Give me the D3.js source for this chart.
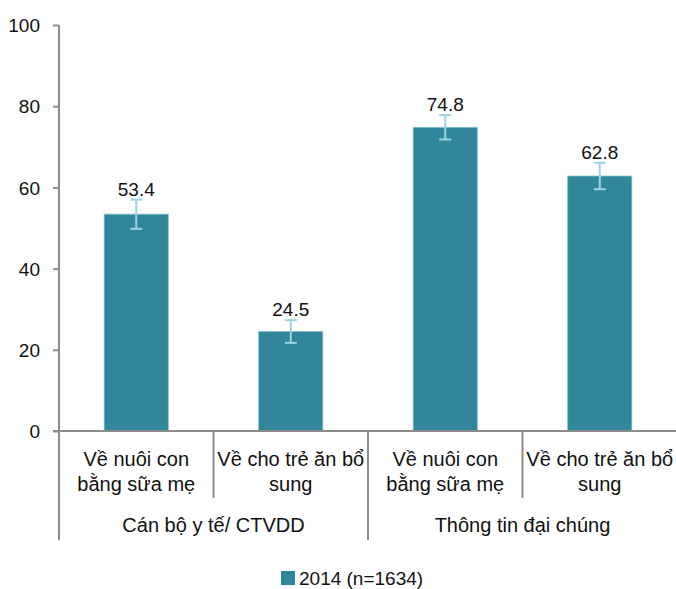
<!DOCTYPE html>
<html>
<head>
<meta charset="utf-8">
<script src="https://cdn.jsdelivr.net/npm/d3@7"></script>
<style>
  body { margin: 0; background: #fff; }
  text { font-family: "Liberation Sans Narrow", "Arial Narrow", "Liberation Sans", sans-serif; fill: #111; }
</style>
</head>
<body>
<script>
// data
const groups = ["Cán bộ y tế/ CTVDD", "Thông tin đại chúng"]
const categories = [
  ["Về nuôi con", "bằng sữa mẹ"],
  ["Về cho trẻ ăn bổ", "sung"],
  ["Về nuôi con", "bằng sữa mẹ"],
  ["Về cho trẻ ăn bổ", "sung"]
]
const catGroup = [0, 0, 1, 1]
const values = [53.4, 24.5, 74.8, 62.8]
const errors = [3.6, 2.8, 3.0, 3.25]
const yTicks = [0, 20, 40, 60, 80, 100]
const seriesName = "2014 (n=1634)"

const svgWidth = 676, svgHeight = 589
const margin = {top: 25, left: 59, right: -1, bottom: 158}
const plotBottom = svgHeight - margin.bottom

const barColor = "#31869b"
const errColor = "#9dd3e0"
const axisColor = "#8c8c8c"

const svg = d3.select("body").append("svg")
  .attr("width", svgWidth)
  .attr("height", svgHeight)

const ids = categories.map((c, i) => i)

const x = d3.scaleBand()
  .domain(ids)
  .range([margin.left, svgWidth - margin.right])
  .paddingInner(0.585)
  .paddingOuter(0.2925)

const y = d3.scaleLinear()
  .domain([0, 100])
  .range([plotBottom, margin.top])

// y axis
const yAxis = d3.axisLeft(y).tickValues(yTicks).tickSize(6).tickPadding(13)
const gy = svg.append("g")
  .attr("transform", "translate(" + margin.left + ",0)")
  .call(yAxis)
gy.select(".domain").remove()
gy.selectAll("line").attr("stroke", axisColor).attr("stroke-width", 2)
gy.selectAll("text").style("font-size", "19px").attr("dy", "0.35em")

// bars
svg.append("g").selectAll("rect")
  .data(values)
  .enter().append("rect")
  .attr("x", (d, i) => x(i))
  .attr("y", d => y(d))
  .attr("width", x.bandwidth())
  .attr("height", d => y(0) - y(d))
  .attr("fill", barColor)
  .attr("stroke", "#7fbfcf")
  .attr("stroke-width", 0.8)

// error bars
const eb = svg.append("g").selectAll("g")
  .data(values)
  .enter().append("g")
  .attr("stroke", errColor)
  .attr("stroke-width", 2)
eb.append("line")
  .attr("x1", (d, i) => x(i) + x.bandwidth() / 2)
  .attr("x2", (d, i) => x(i) + x.bandwidth() / 2)
  .attr("y1", (d, i) => y(d + errors[i]))
  .attr("y2", (d, i) => y(d - errors[i]))
eb.selectAll(".cap")
  .data((d, i) => [[i, d + errors[i]], [i, d - errors[i]]])
  .enter().append("line")
  .attr("x1", d => x(d[0]) + x.bandwidth() / 2 - 6)
  .attr("x2", d => x(d[0]) + x.bandwidth() / 2 + 6)
  .attr("y1", d => y(d[1]))
  .attr("y2", d => y(d[1]))

// value labels
svg.append("g").selectAll("text")
  .data(values)
  .enter().append("text")
  .attr("x", (d, i) => x(i) + x.bandwidth() / 2)
  .attr("y", (d, i) => y(d + errors[i]) - 4)
  .attr("text-anchor", "middle")
  .style("font-size", "19px")
  .text(d => d.toFixed(1))

// axis lines
svg.append("line")
  .attr("x1", margin.left).attr("x2", margin.left)
  .attr("y1", margin.top).attr("y2", plotBottom)
  .attr("stroke", axisColor).attr("stroke-width", 2)
svg.append("line")
  .attr("x1", margin.left - 6).attr("x2", svgWidth)
  .attr("y1", plotBottom).attr("y2", plotBottom)
  .attr("stroke", axisColor).attr("stroke-width", 2)

// category dividers
const step = x.step()
ids.forEach(i => {
  if (i === 0) return
  const left = x(i) - x.paddingInner() * step / 2
  const isGroupStart = catGroup[i] !== catGroup[i - 1]
  svg.append("line")
    .attr("x1", left).attr("x2", left)
    .attr("y1", plotBottom).attr("y2", isGroupStart ? 540 : 498)
    .attr("stroke", axisColor).attr("stroke-width", 2)
})
svg.append("line")
  .attr("x1", margin.left).attr("x2", margin.left)
  .attr("y1", plotBottom).attr("y2", 540)
  .attr("stroke", axisColor).attr("stroke-width", 2)

// category labels
const catLabels = svg.append("g").selectAll("text")
  .data(categories)
  .enter().append("text")
  .attr("text-anchor", "middle")
  .style("font-size", "20px")
catLabels.selectAll("tspan")
  .data((d, i) => d.map(line => [i, line]))
  .enter().append("tspan")
  .attr("x", d => x(d[0]) + x.bandwidth() / 2)
  .attr("y", (d, j) => 466 + j * 25)
  .text(d => d[1])

// group labels
groups.forEach((g, gi) => {
  const members = ids.filter(i => catGroup[i] === gi)
  const cx = (x(members[0]) + x(members[members.length - 1]) + x.bandwidth()) / 2
  svg.append("text")
    .attr("x", cx)
    .attr("y", 532)
    .attr("text-anchor", "middle")
    .style("font-size", "20px")
    .text(g)
})

// legend
const legend = svg.append("g").attr("transform", "translate(281,571)")
legend.append("rect")
  .attr("width", 14).attr("height", 14)
  .attr("fill", barColor)
legend.append("text")
  .attr("x", 18).attr("y", 14)
  .style("font-size", "19px")
  .text(seriesName)
</script>
</body>
</html>
